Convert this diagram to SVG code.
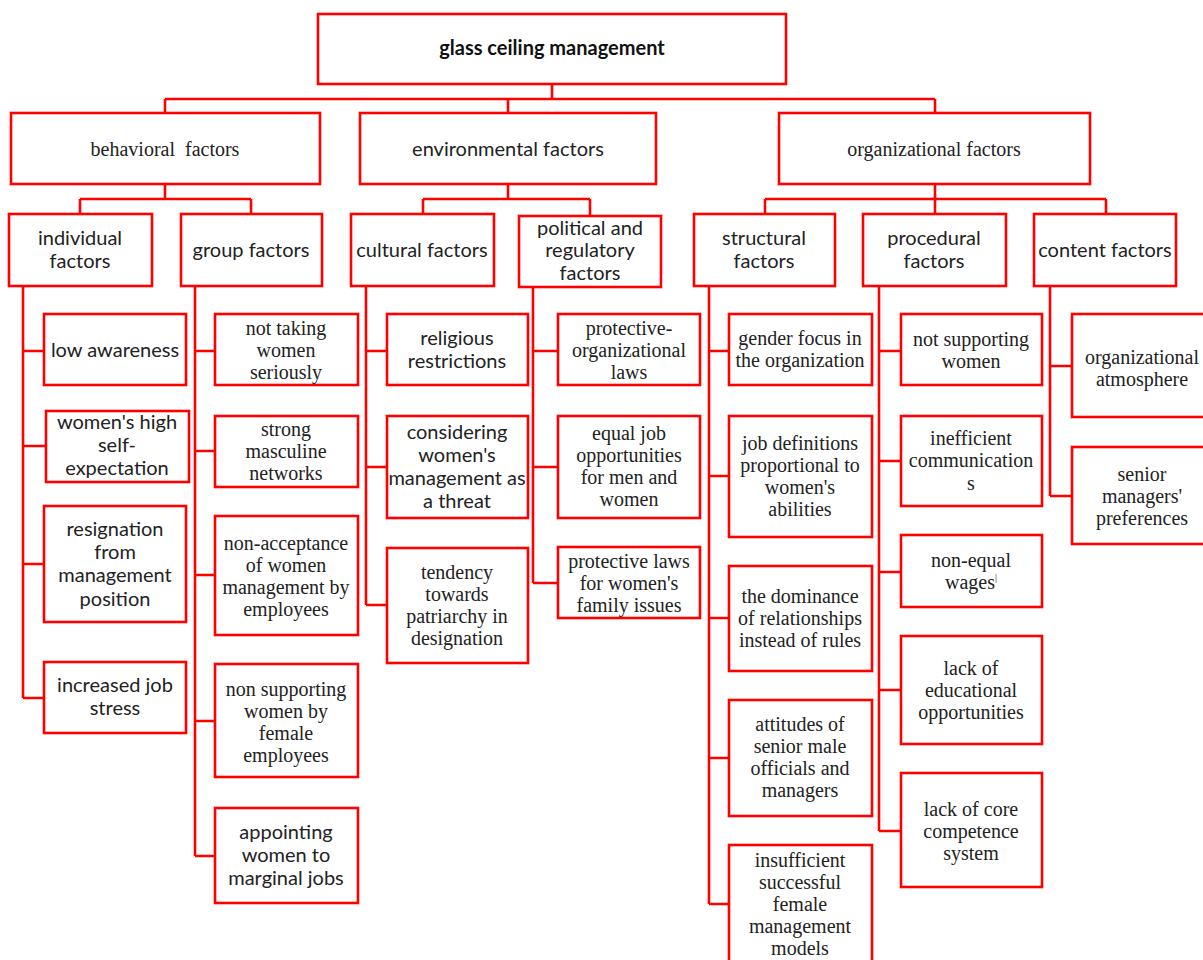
<svg xmlns="http://www.w3.org/2000/svg" width="1203" height="960" viewBox="0 0 1203 960">
<style>
.bx{fill:#fff;stroke:#ff0000;stroke-width:2.6}
.ln{fill:none;stroke:#ff0000;stroke-width:2.6}
.s{font-family:Lato,"Liberation Sans",sans-serif;font-size:20px;fill:#222;text-anchor:middle}
.t{font-family:"Liberation Serif","Times New Roman",serif;font-size:20px;fill:#222;text-anchor:middle}
.b{font-family:Lato,"Liberation Sans",sans-serif;font-size:20px;font-weight:bold;fill:#111;text-anchor:middle}
</style>
<rect width="1203" height="960" fill="#fff"/>
<g id="connectors">
<path class="ln" d="M552,84V99M165,99H935M165,99V113M508,99V113M935,99V113"/>
<path class="ln" d="M165,184V199M80,199H251M80,199V214M251,199V214"/>
<path class="ln" d="M508,184V199M423,199H590M423,199V214M590,199V216"/>
<path class="ln" d="M935,184V199M765,199H1106M765,199V214M935,199V214M1106,199V214"/>
<path class="ln" d="M23,286V698M23,351H44M23,446H46M23,564H44M23,698H44"/>
<path class="ln" d="M195,286V856M195,351H215M195,451H215M195,575H215M195,721H215M195,856H215"/>
<path class="ln" d="M366,286V605M366,351H387M366,467H387M366,605H387"/>
<path class="ln" d="M533,287V583M533,351H558M533,467H558M533,583H558"/>
<path class="ln" d="M709,286V904M709,351H729M709,476H729M709,618H729M709,758H729M709,904H729"/>
<path class="ln" d="M879,286V831M879,351H901M879,461H901M879,572H901M879,690H901M879,831H901"/>
<path class="ln" d="M1050,286V496M1050,366H1072M1050,496H1072"/>
</g>
<g id="root"><rect class="bx" x="318" y="14" width="468" height="70"/><text class="b" x="552" y="55">glass ceiling management</text></g>
<g id="behavioral"><rect class="bx" x="11" y="113" width="309" height="71"/><text class="t" x="165" y="156" font-size="21" xml:space="preserve">behavioral  factors</text></g>
<g id="environmental"><rect class="bx" x="360" y="113" width="296" height="71"/><text class="s" x="508" y="156">environmental factors</text></g>
<g id="organizational"><rect class="bx" x="779" y="113" width="311" height="71"/><text class="t" x="934" y="156" font-size="21">organizational factors</text></g>

<g id="individual"><rect class="bx" x="9" y="214" width="143" height="72"/><text class="s" x="80" y="245">individual</text><text class="s" x="80" y="268">factors</text></g>
<g id="group"><rect class="bx" x="181" y="214" width="141" height="72"/><text class="s" x="251" y="257">group factors</text></g>
<g id="cultural"><rect class="bx" x="351" y="214" width="143" height="72"/><text class="s" x="422" y="257">cultural factors</text></g>
<g id="political"><rect class="bx" x="519" y="216" width="142" height="71"/><text class="s" x="590" y="235">political and</text><text class="s" x="590" y="257">regulatory</text><text class="s" x="590" y="280">factors</text></g>
<g id="structural"><rect class="bx" x="694" y="214" width="141" height="72"/><text class="s" x="764" y="245">structural</text><text class="s" x="764" y="268">factors</text></g>
<g id="procedural"><rect class="bx" x="863" y="214" width="143" height="72"/><text class="s" x="934" y="245">procedural</text><text class="s" x="934" y="268">factors</text></g>
<g id="content"><rect class="bx" x="1034" y="214" width="142" height="72"/><text class="s" x="1105" y="257">content factors</text></g>

<g id="low-awareness"><rect class="bx" x="44" y="314" width="142" height="71"/><text class="s" x="115" y="357">low awareness</text></g>
<g id="high-self-expectation"><rect class="bx" x="46" y="411" width="143" height="71"/><text class="s" x="117" y="429">women's high</text><text class="s" x="117" y="452">self-</text><text class="s" x="117" y="475">expectation</text></g>
<g id="resignation"><rect class="bx" x="44" y="506" width="142" height="116"/><text class="s" x="115" y="536">resignation</text><text class="s" x="115" y="559">from</text><text class="s" x="115" y="582">management</text><text class="s" x="115" y="606">position</text></g>
<g id="job-stress"><rect class="bx" x="44" y="662" width="142" height="71"/><text class="s" x="115" y="692">increased job</text><text class="s" x="115" y="715">stress</text></g>

<g id="not-taking"><rect class="bx" x="215" y="314" width="143" height="71"/><text class="t" x="286" y="335">not taking</text><text class="t" x="286" y="357">women</text><text class="t" x="286" y="379">seriously</text></g>
<g id="masculine-networks"><rect class="bx" x="215" y="416" width="143" height="71"/><text class="t" x="286" y="436">strong</text><text class="t" x="286" y="458">masculine</text><text class="t" x="286" y="480">networks</text></g>
<g id="non-acceptance"><rect class="bx" x="215" y="516" width="143" height="119"/><text class="t" x="286" y="550">non-acceptance</text><text class="t" x="286" y="572">of women</text><text class="t" x="286" y="594">management by</text><text class="t" x="286" y="616">employees</text></g>
<g id="non-supporting-female"><rect class="bx" x="215" y="664" width="143" height="113"/><text class="t" x="286" y="696">non supporting</text><text class="t" x="286" y="718">women by</text><text class="t" x="286" y="740">female</text><text class="t" x="286" y="762">employees</text></g>
<g id="marginal-jobs"><rect class="bx" x="215" y="808" width="143" height="95"/><text class="s" x="286" y="839">appointing</text><text class="s" x="286" y="862">women to</text><text class="s" x="286" y="885">marginal jobs</text></g>

<g id="religious"><rect class="bx" x="387" y="314" width="141" height="71"/><text class="s" x="457" y="345">religious</text><text class="s" x="457" y="368">restrictions</text></g>
<g id="threat"><rect class="bx" x="387" y="416" width="141" height="102"/><text class="s" x="457" y="439">considering</text><text class="s" x="457" y="462">women's</text><text class="s" x="457" y="485">management as</text><text class="s" x="457" y="508">a threat</text></g>
<g id="patriarchy"><rect class="bx" x="387" y="548" width="141" height="115"/><text class="t" x="457" y="579">tendency</text><text class="t" x="457" y="601">towards</text><text class="t" x="457" y="623">patriarchy in</text><text class="t" x="457" y="645">designation</text></g>

<g id="protective-org"><rect class="bx" x="558" y="314" width="142" height="71"/><text class="t" x="629" y="335">protective-</text><text class="t" x="629" y="357">organizational</text><text class="t" x="629" y="379">laws</text></g>
<g id="equal-job"><rect class="bx" x="558" y="416" width="142" height="102"/><text class="t" x="629" y="440">equal job</text><text class="t" x="629" y="462">opportunities</text><text class="t" x="629" y="484">for men and</text><text class="t" x="629" y="506">women</text></g>
<g id="protective-family"><rect class="bx" x="558" y="547" width="142" height="71"/><text class="t" x="629" y="568">protective laws</text><text class="t" x="629" y="590">for women's</text><text class="t" x="629" y="612">family issues</text></g>

<g id="gender-focus"><rect class="bx" x="729" y="314" width="143" height="71"/><text class="t" x="800" y="345">gender focus in</text><text class="t" x="800" y="367">the organization</text></g>
<g id="job-definitions"><rect class="bx" x="729" y="416" width="143" height="121"/><text class="t" x="800" y="450">job definitions</text><text class="t" x="800" y="472">proportional to</text><text class="t" x="800" y="494">women's</text><text class="t" x="800" y="516">abilities</text></g>
<g id="dominance"><rect class="bx" x="729" y="566" width="143" height="105"/><text class="t" x="800" y="603">the dominance</text><text class="t" x="800" y="625">of relationships</text><text class="t" x="800" y="647">instead of rules</text></g>
<g id="attitudes"><rect class="bx" x="729" y="700" width="143" height="116"/><text class="t" x="800" y="731">attitudes of</text><text class="t" x="800" y="753">senior male</text><text class="t" x="800" y="775">officials and</text><text class="t" x="800" y="797">managers</text></g>
<g id="insufficient-models"><rect class="bx" x="729" y="845" width="143" height="130"/><text class="t" x="800" y="867">insufficient</text><text class="t" x="800" y="889">successful</text><text class="t" x="800" y="911">female</text><text class="t" x="800" y="933">management</text><text class="t" x="800" y="955">models</text></g>

<g id="not-supporting"><rect class="bx" x="901" y="314" width="141" height="71"/><text class="t" x="971" y="346">not supporting</text><text class="t" x="971" y="368">women</text></g>
<g id="inefficient"><rect class="bx" x="901" y="416" width="141" height="90"/><text class="t" x="971" y="445">inefficient</text><text class="t" x="971" y="467">communication</text><text class="t" x="971" y="490">s</text></g>
<g id="non-equal"><rect class="bx" x="901" y="535" width="141" height="72"/><text class="t" x="971" y="567">non-equal</text><text class="t" x="971" y="589">wages<tspan font-size="10" dy="-8">|</tspan></text></g>
<g id="educational"><rect class="bx" x="901" y="636" width="141" height="108"/><text class="t" x="971" y="675">lack of</text><text class="t" x="971" y="697">educational</text><text class="t" x="971" y="719">opportunities</text></g>
<g id="core-competence"><rect class="bx" x="901" y="773" width="141" height="114"/><text class="t" x="971" y="816">lack of core</text><text class="t" x="971" y="838">competence</text><text class="t" x="971" y="860">system</text></g>

<g id="atmosphere"><rect class="bx" x="1072" y="314" width="140" height="103"/><text class="t" x="1142" y="364">organizational</text><text class="t" x="1142" y="386">atmosphere</text></g>
<g id="preferences"><rect class="bx" x="1072" y="447" width="140" height="97"/><text class="t" x="1142" y="481">senior</text><text class="t" x="1142" y="503">managers'</text><text class="t" x="1142" y="525">preferences</text></g>
</svg>
